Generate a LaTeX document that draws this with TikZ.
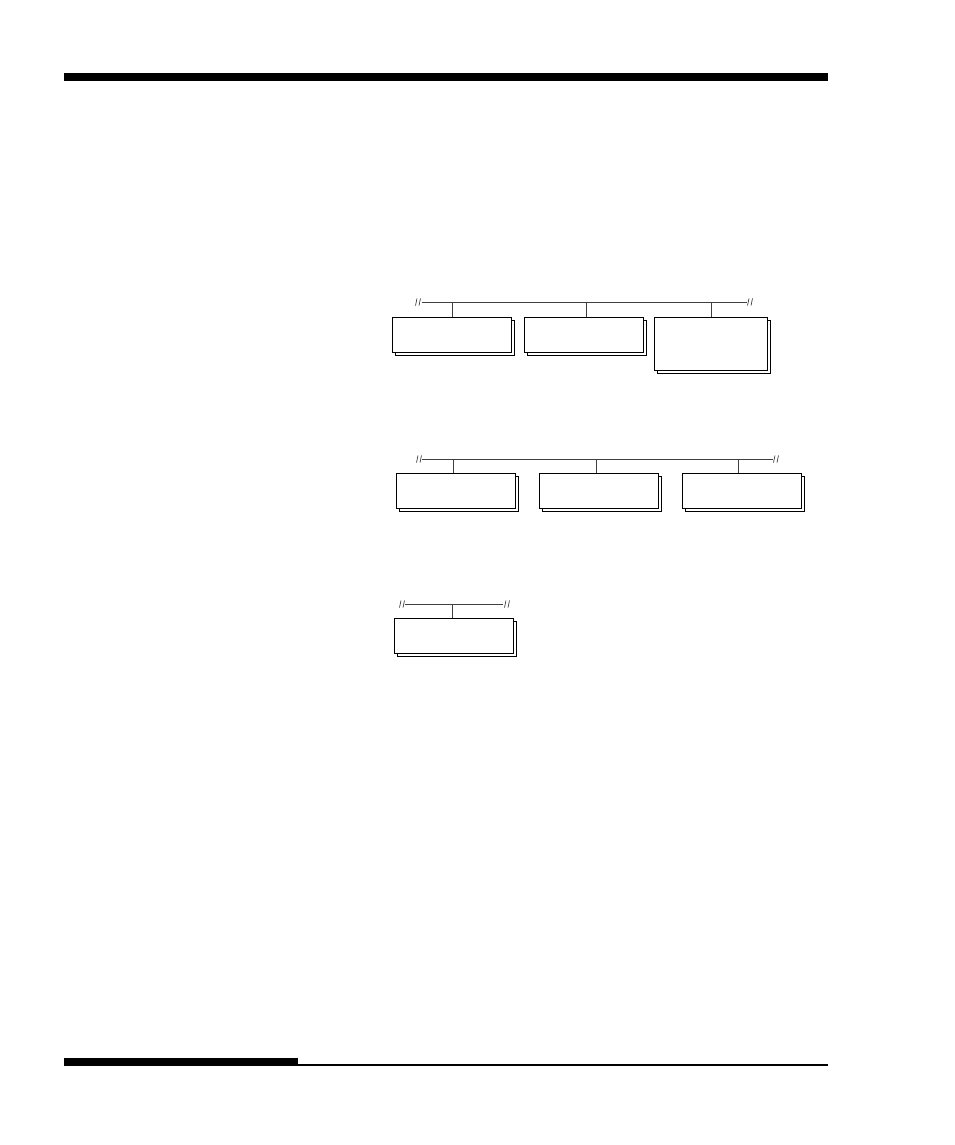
\documentclass[tikz,border=0pt]{standalone}
\usepackage{tikz}
\usetikzlibrary{positioning,shadows}

\begin{document}
\begin{tikzpicture}[
    x=0.75pt, y=-0.75pt,
    unit/.style={rectangle, draw=black, fill=white, line width=0.7pt, inner sep=0pt,
        minimum width=89.5pt, minimum height=26.5pt, anchor=north west,
        copy shadow={shadow xshift=2pt, shadow yshift=-2pt}},
    tallunit/.style={unit, minimum width=84.5pt, minimum height=40pt},
    bus/.style={draw=black!75, line width=0.7pt},
    breakmark/.pic={
        \draw[black!80, line width=0.5pt] (-2.5,3.5) .. controls (-0.5,1.5) and (-3,-1.5) .. (-1,-3.5);
        \draw[black!80, line width=0.5pt] (1,3.5) .. controls (3,1.5) and (0.5,-1.5) .. (2.5,-3.5);
    }
]
    \useasboundingbox (0,0) rectangle (954,1145);

    % page rules
    \fill (64,73) rectangle (828,81);
    \fill (64,1058) rectangle (298,1066);
    \draw[line width=1.2pt] (298,1065) -- (828,1065);

    %--- first row ---
    \node [unit] (ua) at (392,317) {};
    \node [unit, right=8.8pt of ua.north east, anchor=north west] (ub) {};
    \node [tallunit, right=7.5pt of ub.north east, anchor=north west] (uc) {};
    \coordinate (busa-l) at (422,302);
    \coordinate (busa-r) at (747,302);
    \pic at (418,302) {breakmark};
    \pic at (750,302) {breakmark};
    \draw [bus] (busa-l) -- (busa-r);
    \draw [bus] (ua.north) -- (ua.north |- busa-l);
    \draw [bus] ([xshift=2pt]ub.north) -- ([xshift=2pt]ub.north |- busa-l);
    \draw [bus] (uc.north) -- (uc.north |- busa-l);

    %--- second row ---
    \node [unit] (va) at (396,473) {};
    \node [unit, right=17pt of va.north east, anchor=north west] (vb) {};
    \node [unit, right=17pt of vb.north east, anchor=north west] (vc) {};
    \coordinate (busb-l) at (422,459);
    \coordinate (busb-r) at (773,459);
    \pic at (419,459) {breakmark};
    \pic at (776,459) {breakmark};
    \draw [bus] (busb-l) -- (busb-r);
    \draw [bus] ([xshift=-1.7pt]va.north) -- ([xshift=-1.7pt]va.north |- busb-l);
    \draw [bus] ([xshift=-2.3pt]vb.north) -- ([xshift=-2.3pt]vb.north |- busb-l);
    \draw [bus] ([xshift=-2.3pt]vc.north) -- ([xshift=-2.3pt]vc.north |- busb-l);

    %--- third row ---
    \node [unit] (wa) at (394,618) {};
    \coordinate (busc-l) at (405,604);
    \coordinate (busc-r) at (503,604);
    \pic at (402,604) {breakmark};
    \pic at (507,604) {breakmark};
    \draw [bus] (busc-l) -- (busc-r);
    \draw [bus] ([xshift=-1.2pt]wa.north) -- ([xshift=-1.2pt]wa.north |- busc-l);

\end{tikzpicture}
\end{document}
